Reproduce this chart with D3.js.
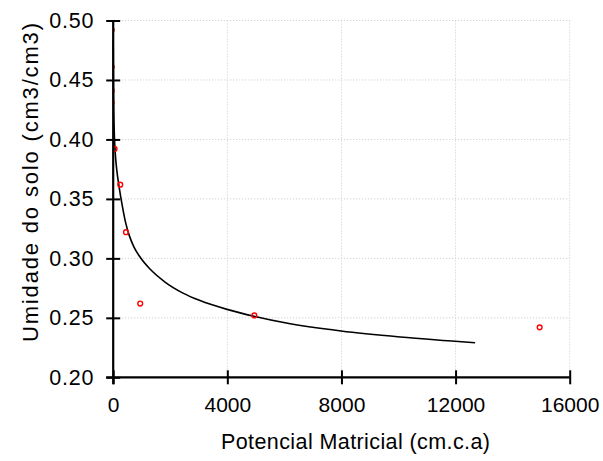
<!DOCTYPE html>
<html>
<head>
<meta charset="utf-8">
<script src="https://cdn.jsdelivr.net/npm/d3@7"></script>
<style>
  html, body { margin: 0; padding: 0; background: #fff; }
  svg { display: block; font-family: "Liberation Sans", Arial, sans-serif; }
</style>
</head>
<body>
<svg id="chart" width="603" height="461"></svg>
<script>
// Measured retention points: pressure head (cm) and volumetric water content
const headObs  = [0, 0, 0, 0, 100, 300, 500, 1000, 5000, 15000];
const thetaObs = [0.492, 0.461, 0.441, 0.431, 0.392, 0.362, 0.322, 0.262, 0.252, 0.242];

// Fitted retention curve
const headFit  = [0, 14, 35, 70, 126, 203, 308, 431, 571, 729, 940, 1290, 1816, 2447, 3044, 3990, 4971, 6023, 7986, 10055, 11983, 12684];
const thetaFit = [0.4834, 0.4330, 0.4078, 0.3893, 0.3742, 0.3608, 0.3456, 0.3305, 0.3187, 0.3095, 0.3011, 0.2910, 0.2801, 0.2708, 0.2645, 0.2571, 0.2511, 0.2458, 0.2389, 0.2339, 0.2303, 0.2290];

// Axis ticks
const xTicks = [0, 4000, 8000, 12000, 16000];
const yTicks = [0.20, 0.25, 0.30, 0.35, 0.40, 0.45, 0.50];

const xTitle = "Potencial Matricial (cm.c.a)";
const yTitle = "Umidade do solo (cm3/cm3)";

const svg = d3.select("#chart");
const plotL = 113.2, plotR = 569.7, plotT = 20.5, plotB = 377.3;

const x = d3.scaleLinear().domain([0, 16000]).range([plotL, plotR]);
const y = d3.scaleLinear().domain([0.20, 0.50]).range([plotB, plotT]);

svg.append("defs").append("clipPath").attr("id", "plotclip")
  .append("rect").attr("x", plotL).attr("y", plotT - 5)
  .attr("width", plotR - plotL + 5).attr("height", plotB - plotT + 5);

// Grid
const grid = svg.append("g").attr("stroke", "#c8c8c8").attr("stroke-width", 1)
  .attr("stroke-dasharray", "1,2");
grid.selectAll(".gx").data(xTicks.slice(1)).join("line")
  .attr("x1", d => x(d)).attr("x2", d => x(d))
  .attr("y1", plotT).attr("y2", plotB);
grid.selectAll(".gy").data(yTicks.slice(1)).join("line")
  .attr("y1", d => y(d)).attr("y2", d => y(d))
  .attr("x1", plotL).attr("x2", plotR);

// Fitted curve
const fit = d3.zip(headFit, thetaFit);
svg.append("path")
  .datum(fit)
  .attr("fill", "none")
  .attr("stroke", "#000")
  .attr("stroke-width", 1.6)
  .attr("d", d3.line().x(d => x(d[0])).y(d => y(d[1])).curve(d3.curveMonotoneX));

// Observations
const obs = d3.zip(headObs, thetaObs);
svg.append("g").attr("clip-path", "url(#plotclip)")
  .selectAll("circle").data(obs).join("circle")
  .attr("cx", d => x(d[0]) - 1.5)
  .attr("cy", d => y(d[1]))
  .attr("r", 2.4)
  .attr("fill", "none")
  .attr("stroke", "#ff0000")
  .attr("stroke-width", 1.4);

// Axes with ticks crossing the axis line
const xAxis = d3.axisBottom(x).tickValues(xTicks).tickFormat(d3.format("d"))
  .tickSizeInner(7).tickSizeOuter(0).tickPadding(13);
const gx = svg.append("g").attr("transform", `translate(0,${plotB})`).call(xAxis);
gx.select(".domain").attr("stroke-width", 2.2).attr("d", `M${plotL - 7},0H${plotR}`);
gx.selectAll(".tick line").attr("y1", -7).attr("y2", 7).attr("stroke-width", 2);
gx.selectAll(".tick text").attr("font-size", 21).attr("fill", "#000")
  .attr("font-family", "Liberation Sans, Arial, sans-serif");

const yAxis = d3.axisLeft(y).tickValues(yTicks).tickFormat(d3.format(".2f"))
  .tickSizeInner(7).tickSizeOuter(0).tickPadding(12);
const gy = svg.append("g").attr("transform", `translate(${plotL},0)`).call(yAxis);
gy.select(".domain").attr("stroke-width", 2.2).attr("d", `M0,${plotB + 7}V${plotT}`);
gy.selectAll(".tick line").attr("x1", -7).attr("x2", 7).attr("stroke-width", 2);
gy.selectAll(".tick text").attr("font-size", 21.5).attr("fill", "#000")
  .attr("letter-spacing", "0.8px")
  .attr("font-family", "Liberation Sans, Arial, sans-serif");

// Axis titles
svg.append("text")
  .attr("x", 355.5).attr("y", 449)
  .attr("text-anchor", "middle")
  .attr("font-size", 21.5)
  .attr("textLength", 269).attr("lengthAdjust", "spacing")
  .text(xTitle);

svg.append("text")
  .attr("transform", `translate(37.5,${(22 + 343) / 2}) rotate(-90)`)
  .attr("text-anchor", "middle")
  .attr("font-size", 22)
  .attr("textLength", 319).attr("lengthAdjust", "spacing")
  .text(yTitle);
</script>
</body>
</html>
